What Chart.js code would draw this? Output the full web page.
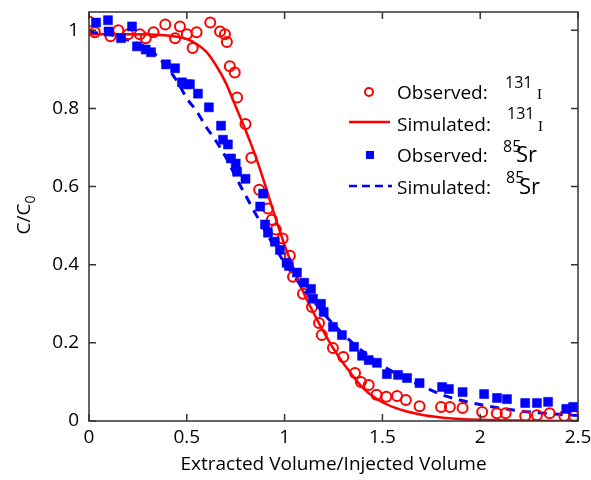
<!DOCTYPE html>
<html>
<head>
<meta charset="utf-8">
<script src="https://cdn.jsdelivr.net/npm/chart.js@4/dist/chart.umd.min.js"></script>
<style>
  html, body { margin: 0; padding: 0; background: #fff; }
  canvas { display: block; }
</style>
</head>
<body>
<canvas id="chart" width="591" height="480"></canvas>
<script>
// observed 131I (red circles)
const obsIX = [0.00, 0.03, 0.11, 0.15, 0.20, 0.26, 0.29, 0.33, 0.39, 0.44, 0.465, 0.50, 0.53, 0.55, 0.62, 0.67, 0.695, 0.705, 0.72, 0.745, 0.757, 0.80, 0.83, 0.87, 0.915, 0.935, 0.955, 0.99, 1.027, 1.043, 1.094, 1.14, 1.176, 1.19, 1.247, 1.30, 1.36, 1.39, 1.43, 1.47, 1.52, 1.575, 1.62, 1.69, 1.80, 1.845, 1.91, 2.01, 2.085, 2.13, 2.23, 2.29, 2.355, 2.43, 2.48];
const obsIY = [1.023, 0.995, 0.985, 1.0, 0.99, 0.99, 0.98, 0.995, 1.015, 0.98, 1.01, 0.99, 0.955, 0.995, 1.02, 0.997, 0.99, 0.97, 0.908, 0.892, 0.828, 0.76, 0.674, 0.592, 0.544, 0.515, 0.49, 0.467, 0.423, 0.369, 0.326, 0.292, 0.251, 0.22, 0.187, 0.164, 0.123, 0.10, 0.092, 0.067, 0.062, 0.064, 0.054, 0.038, 0.036, 0.036, 0.033, 0.023, 0.02, 0.02, 0.013, 0.015, 0.02, 0.013, 0.013];

// simulated 131I (red line)
const simIX = [0, 0.2, 0.4, 0.5, 0.55, 0.6, 0.65, 0.7, 0.75, 0.8, 0.85, 0.9, 0.95, 1.0, 1.05, 1.1, 1.15, 1.2, 1.25, 1.3, 1.4, 1.5, 1.6, 1.7, 1.8, 1.9, 2.0, 2.2, 2.5];
const simIY = [0.99, 0.99, 0.987, 0.978, 0.965, 0.945, 0.91, 0.865, 0.805, 0.745, 0.68, 0.605, 0.525, 0.45, 0.385, 0.325, 0.275, 0.228, 0.185, 0.148, 0.085, 0.048, 0.028, 0.016, 0.009, 0.005, 0.003, 0.001, 0.0];

// observed 85Sr (blue squares)
const obsSrX = [0.036, 0.097, 0.10, 0.164, 0.22, 0.245, 0.29, 0.317, 0.394, 0.44, 0.475, 0.50, 0.516, 0.557, 0.613, 0.675, 0.685, 0.71, 0.726, 0.75, 0.757, 0.80, 0.89, 0.875, 0.90, 0.915, 0.95, 0.976, 1.01, 1.022, 1.063, 1.10, 1.135, 1.145, 1.186, 1.20, 1.247, 1.293, 1.355, 1.396, 1.43, 1.472, 1.523, 1.58, 1.626, 1.69, 1.805, 1.84, 1.91, 2.02, 2.086, 2.137, 2.23, 2.29, 2.347, 2.44, 2.475];
const obsSrY = [1.02, 1.026, 0.997, 0.98, 1.01, 0.959, 0.951, 0.944, 0.913, 0.903, 0.867, 0.862, 0.862, 0.838, 0.803, 0.756, 0.72, 0.708, 0.672, 0.659, 0.638, 0.62, 0.582, 0.549, 0.503, 0.482, 0.459, 0.438, 0.405, 0.397, 0.38, 0.354, 0.338, 0.313, 0.30, 0.279, 0.241, 0.22, 0.19, 0.167, 0.156, 0.149, 0.12, 0.118, 0.11, 0.097, 0.087, 0.082, 0.074, 0.069, 0.059, 0.056, 0.046, 0.046, 0.049, 0.031, 0.036];

// simulated 85Sr (blue dashed)
const simSrX = [0, 0.1, 0.2, 0.3, 0.35, 0.4, 0.45, 0.5, 0.55, 0.6, 0.65, 0.7, 0.75, 0.8, 0.85, 0.9, 0.95, 1.0, 1.05, 1.1, 1.15, 1.2, 1.3, 1.4, 1.5, 1.6, 1.7, 1.8, 1.9, 2.0, 2.1, 2.2, 2.3, 2.4, 2.5];
const simSrY = [0.995, 0.99, 0.975, 0.955, 0.933, 0.905, 0.87, 0.826, 0.793, 0.752, 0.716, 0.675, 0.625, 0.578, 0.532, 0.487, 0.445, 0.405, 0.37, 0.335, 0.305, 0.275, 0.222, 0.178, 0.142, 0.113, 0.09, 0.068, 0.053, 0.042, 0.033, 0.026, 0.021, 0.017, 0.014];

const xTicks = [0, 0.5, 1, 1.5, 2, 2.5];
const yTicks = [0, 0.2, 0.4, 0.6, 0.8, 1];

const RED = '#ff0000';
const BLUE = '#0000ff';
const FONT = '"Open Sans", "DejaVu Sans", sans-serif';

const pts = (xs, ys) => xs.map((x, i) => ({ x: x, y: ys[i] }));

// frame, inward ticks on all four sides, y title and legend
const decor = {
    id: 'decor',
    afterDraw(chart) {
        const ctx = chart.ctx;
        const a = chart.chartArea;
        const xs = chart.scales.x, ys = chart.scales.y;
        ctx.save();
        ctx.strokeStyle = '#333';
        ctx.lineWidth = 1.5;
        ctx.strokeRect(a.left, a.top, a.right - a.left, a.bottom - a.top);
        ctx.beginPath();
        xTicks.forEach(v => {
            const px = xs.getPixelForValue(v);
            ctx.moveTo(px, a.bottom); ctx.lineTo(px, a.bottom - 7);
            ctx.moveTo(px, a.top); ctx.lineTo(px, a.top + 7);
        });
        yTicks.forEach(v => {
            const py = ys.getPixelForValue(v);
            ctx.moveTo(a.left, py); ctx.lineTo(a.left + 7, py);
            ctx.moveTo(a.right, py); ctx.lineTo(a.right - 7, py);
        });
        ctx.stroke();

        // y title C/C0
        ctx.fillStyle = '#000';
        ctx.translate(30, 215);
        ctx.rotate(-Math.PI / 2);
        ctx.font = '19px ' + FONT;
        const w1 = ctx.measureText('C/C').width;
        ctx.font = '14px ' + FONT;
        const w2 = ctx.measureText('0').width;
        ctx.textAlign = 'left';
        ctx.textBaseline = 'alphabetic';
        ctx.font = '19px ' + FONT;
        ctx.fillText('C/C', -(w1 + w2) / 2, 0);
        ctx.font = '14px ' + FONT;
        ctx.fillText('0', -(w1 + w2) / 2 + w1, 5);
        ctx.restore();

        // legend
        ctx.save();
        ctx.fillStyle = '#000';
        ctx.textAlign = 'left';
        ctx.textBaseline = 'alphabetic';
        const rows = [
            { label: 'Observed:', base: 99, sup: '131', supX: 505, supBase: 88, el: 'I', elX: 537, elFont: '15px "Liberation Serif", serif' },
            { label: 'Simulated:', base: 131, sup: '131', supX: 507, supBase: 119, el: 'I', elX: 538, elFont: '15px "Liberation Serif", serif' },
            { label: 'Observed:', base: 162, sup: '85', supX: 503, supBase: 152, el: 'Sr', elX: 516, elFont: '22px ' + FONT },
            { label: 'Simulated:', base: 194, sup: '85', supX: 506, supBase: 183, el: 'Sr', elX: 519, elFont: '22px ' + FONT }
        ];
        rows.forEach(r => {
            ctx.font = '19px ' + FONT;
            ctx.fillText(r.label, 397, r.base);
            ctx.font = '16px ' + FONT;
            ctx.fillText(r.sup, r.supX, r.supBase);
            ctx.font = r.elFont;
            ctx.fillText(r.el, r.elX, r.base);
        });
        // markers
        ctx.strokeStyle = RED;
        ctx.lineWidth = 2;
        ctx.beginPath();
        ctx.arc(369, 92, 4, 0, Math.PI * 2);
        ctx.stroke();
        ctx.lineWidth = 2.5;
        ctx.beginPath();
        ctx.moveTo(349, 122); ctx.lineTo(390, 122);
        ctx.stroke();
        ctx.fillStyle = BLUE;
        ctx.fillRect(366, 151, 8, 8);
        ctx.strokeStyle = BLUE;
        ctx.setLineDash([8, 5]);
        ctx.beginPath();
        ctx.moveTo(349, 186); ctx.lineTo(392, 186);
        ctx.stroke();
        ctx.restore();
    }
};

new Chart(document.getElementById('chart'), {
    type: 'scatter',
    data: {
        datasets: [
            {
                label: 'Simulated 131I', data: pts(simIX, simIY), showLine: true,
                borderColor: RED, borderWidth: 2.5, pointRadius: 0,
                cubicInterpolationMode: 'monotone', order: 4
            },
            {
                label: 'Simulated 85Sr', data: pts(simSrX, simSrY), showLine: true,
                borderColor: BLUE, borderWidth: 3, borderDash: [9, 7], pointRadius: 0,
                cubicInterpolationMode: 'monotone', order: 3
            },
            {
                label: 'Observed 131I', data: pts(obsIX, obsIY),
                pointStyle: 'circle', pointRadius: 5, borderWidth: 2,
                borderColor: RED, backgroundColor: 'rgba(0,0,0,0)', order: 2
            },
            {
                label: 'Observed 85Sr', data: pts(obsSrX, obsSrY),
                pointStyle: 'rect', pointRadius: 6.4, borderWidth: 0.5,
                borderColor: BLUE, backgroundColor: BLUE, order: 1
            }
        ]
    },
    options: {
        responsive: false,
        animation: false,
        devicePixelRatio: 1,
        layout: { padding: { left: 0, right: 13, top: 12, bottom: 0 } },
        plugins: { legend: { display: false }, tooltip: { enabled: false } },
        scales: {
            x: {
                type: 'linear', min: 0, max: 2.5,
                grid: { display: false, drawTicks: false },
                border: { display: false },
                afterBuildTicks: s => { s.ticks = xTicks.map(v => ({ value: v })); },
                afterFit: s => { s.height = 59; s.paddingLeft = 0; s.paddingRight = 0; },
                ticks: { color: '#000', padding: 5, font: { family: FONT, size: 19 }, maxRotation: 0, autoSkip: false, callback: v => String(v) },
                title: { display: true, text: 'Extracted Volume/Injected Volume', color: '#000', font: { family: FONT, size: 19 }, padding: { top: 10 } }
            },
            y: {
                type: 'linear', min: 0, max: 1.047,
                grid: { display: false, drawTicks: false },
                border: { display: false },
                afterBuildTicks: s => { s.ticks = yTicks.map(v => ({ value: v })); },
                afterFit: s => { s.width = 89; s.paddingTop = 0; s.paddingBottom = 0; },
                ticks: { color: '#000', padding: 10, font: { family: FONT, size: 19 }, callback: v => String(v) }
            }
        }
    },
    plugins: [decor]
});
</script>
</body>
</html>
